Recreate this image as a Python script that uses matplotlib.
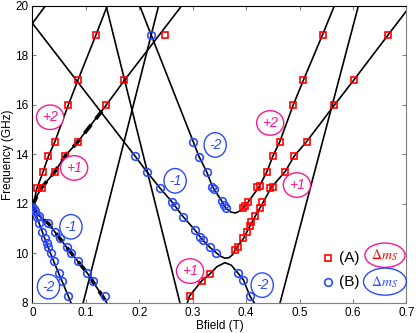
import matplotlib
matplotlib.use('Agg')
import matplotlib.pyplot as plt

plt.rcParams['font.family'] = ['Liberation Sans', 'DejaVu Sans']
plt.rcParams['mathtext.fontset'] = 'stix'

# ---- measured points (Bfield in T, frequency in GHz) ----
# (A) red squares
a_b = [0.008, 0.017, 0.020, 0.030, 0.042, 0.042, 0.061, 0.067, 0.085, 0.085, 0.119, 0.138, 0.172, 0.249,
       0.294, 0.317, 0.332,
       0.379, 0.385, 0.395, 0.401, 0.407, 0.410, 0.417, 0.426, 0.429, 0.445, 0.450, 0.473, 0.490, 0.513,
       0.565, 0.601, 0.666,
       0.394, 0.398, 0.404, 0.421, 0.426, 0.439, 0.450, 0.463, 0.488, 0.507, 0.543]
a_f = [12.65, 12.65, 13.30, 13.93, 13.30, 14.51, 13.93, 15.99, 14.51, 16.99, 18.84, 15.99, 16.99, 18.84,
       8.27, 8.89, 9.16,
       10.15, 10.27, 10.60, 10.87, 11.10, 11.27, 11.50, 11.82, 12.08, 12.63, 12.69, 13.30, 13.93, 14.51,
       15.99, 16.99, 18.84,
       11.82, 11.91, 12.08, 12.66, 12.72, 13.30, 13.93, 14.51, 15.99, 16.99, 18.84]

# (B) blue circles
b_b = [0.000, 0.002, 0.004, 0.008, 0.013, 0.018, 0.023, 0.027, 0.030, 0.034, 0.040, 0.049, 0.055, 0.067,
       0.013, 0.030, 0.042, 0.052, 0.064, 0.072, 0.085, 0.103, 0.114, 0.136,
       0.192, 0.214, 0.222, 0.239, 0.261, 0.266, 0.282, 0.304, 0.314, 0.319, 0.332, 0.344,
       0.301, 0.312, 0.326, 0.337, 0.339, 0.354, 0.359, 0.362,
       0.385, 0.395, 0.407]
b_f = [11.88, 11.80, 11.72, 11.48, 11.21, 10.87, 10.60, 10.43, 10.24, 10.02, 9.68, 9.19, 8.89, 8.27,
       11.50, 11.23, 10.87, 10.60, 10.24, 10.02, 9.68, 9.19, 8.89, 8.27,
       13.93, 13.30, 18.84, 12.63, 12.08, 11.91, 11.48, 10.94, 10.67, 10.53, 10.24, 10.02,
       14.51, 13.90, 13.30, 12.69, 12.58, 12.12, 11.95, 11.82,
       9.19, 8.92, 8.27]

# ---- transition lines ----
p2_b = [0.000, 0.004, 0.008, 0.020, 0.030, 0.042, 0.067, 0.085, 0.119, 0.140]
p2_f = [11.90, 12.20, 12.60, 13.30, 13.93, 14.51, 15.99, 16.99, 18.84, 20.00]

p1_b = [0.000, 0.008, 0.017, 0.042, 0.061, 0.085, 0.138, 0.172, 0.279]
p1_f = [11.90, 12.30, 12.65, 13.30, 13.93, 14.51, 15.99, 16.99, 20.00]

m1_b = [0.000, 0.004, 0.013, 0.030, 0.064, 0.103, 0.139]
m1_f = [11.90, 11.75, 11.50, 11.20, 10.24, 9.19, 8.00]

m2_b = [0.000, 0.008, 0.023, 0.040, 0.067, 0.072]
m2_f = [11.90, 11.48, 10.60, 9.66, 8.27, 8.00]

low_b = [0.000, 0.100, 0.192, 0.214, 0.239, 0.261, 0.282, 0.304, 0.319, 0.332, 0.344, 0.352, 0.360, 0.368,
         0.375, 0.382, 0.395, 0.407, 0.417, 0.429, 0.447, 0.473, 0.490, 0.513, 0.565, 0.601, 0.666, 0.700]
low_f = [19.30, 16.50, 13.93, 13.30, 12.63, 12.08, 11.48, 10.94, 10.53, 10.24, 10.02, 9.88, 9.80, 9.82,
         9.95, 10.24, 10.60, 11.10, 11.50, 11.95, 12.66, 13.30, 13.93, 14.51, 15.99, 16.99, 18.84, 19.80]

up_b = [0.201, 0.222, 0.301, 0.312, 0.326, 0.337, 0.354, 0.362, 0.372, 0.380, 0.389, 0.394, 0.404, 0.424,
        0.439, 0.450, 0.463, 0.488, 0.507, 0.543, 0.565]
up_f = [20.00, 18.84, 14.51, 13.90, 13.30, 12.69, 12.12, 11.82, 11.66, 11.63, 11.72, 11.82, 12.08, 12.68,
        13.30, 13.93, 14.51, 15.99, 16.99, 18.84, 20.00]

hump_b = [0.290, 0.294, 0.317, 0.332, 0.345, 0.360, 0.372, 0.385, 0.395, 0.407, 0.415]
hump_f = [8.00, 8.27, 8.89, 9.16, 9.45, 9.62, 9.52, 9.19, 8.92, 8.27, 8.00]

zf_up_b = [0.000, 0.024]
zf_up_f = [19.30, 20.00]

steep1_b = [0.095, 0.236]
steep1_f = [8.00, 20.00]
steep2_b = [0.138, 0.276]
steep2_f = [20.00, 8.00]
steep3_b = [0.4635, 0.610]
steep3_f = [8.00, 20.00]

# thick dashed overlays
dash1_b = [0.000, 0.008, 0.017, 0.042, 0.061, 0.085, 0.130]
dash1_f = [11.90, 12.30, 12.65, 13.30, 13.93, 14.51, 15.75]

# labels (text, B, f, colour)
red = '#ff0000'
blue = '#2a4bff'
pink = '#ff1493'
labels = [('+2', 0.033, 15.50, pink), ('+1', 0.078, 13.45, pink),
          ('-1', 0.072, 11.07, blue), ('-2', 0.030, 8.65, blue),
          ('-2', 0.342, 14.38, blue), ('-1', 0.267, 12.93, blue),
          ('+2', 0.445, 15.27, pink), ('+1', 0.495, 12.76, pink),
          ('+1', 0.295, 9.28, pink), ('-2', 0.430, 8.71, blue)]

fig = plt.figure(figsize=(4.16, 3.33), dpi=100)
ax = fig.add_axes([0.078, 0.091, 0.899, 0.891])

lw = 1.2
for xs, ys in [(p2_b, p2_f), (p1_b, p1_f), (m1_b, m1_f), (m2_b, m2_f), (low_b, low_f), (up_b, up_f),
               (hump_b, hump_f), (zf_up_b, zf_up_f), (steep1_b, steep1_f), (steep2_b, steep2_f),
               (steep3_b, steep3_f)]:
    ax.plot(xs, ys, color='black', lw=lw, zorder=2)

ax.plot(dash1_b, dash1_f, color='black', lw=2.6, ls=(0, (3, 2)), zorder=2)
ax.plot(m1_b, m1_f, color='black', lw=2.6, ls=(0, (3, 2)), zorder=2)

ax.plot(a_b, a_f, ls='none', marker='s', ms=5, mfc='none', mec=red, mew=1.2, zorder=3)
ax.plot(b_b, b_f, ls='none', marker='o', ms=5.5, mfc='none', mec=blue, mew=1.2, zorder=3)

for txt, x, y, c in labels:
    ax.text(x, y, txt, color=c, fontsize=10, ha='center', va='center', style='italic',
            bbox=dict(boxstyle='ellipse,pad=0.12', fc='white', ec=c, lw=1.0), zorder=4)

# legend drawn by hand
ax.plot([0.791], [0.152], transform=ax.transAxes, marker='s', ms=5, mfc='none', mec=red, mew=1.2, ls='none')
ax.plot([0.791], [0.071], transform=ax.transAxes, marker='o', ms=5.5, mfc='none', mec=blue, mew=1.2, ls='none')
ax.text(0.82, 0.152, '(A)', transform=ax.transAxes, fontsize=11, va='center', ha='left')
ax.text(0.82, 0.071, '(B)', transform=ax.transAxes, fontsize=11, va='center', ha='left')
ax.text(0.9425, 0.160, r'$\Delta m_S$', transform=ax.transAxes, fontsize=10, color=red, va='center', ha='center',
        bbox=dict(boxstyle='ellipse,pad=0.05', fc='white', ec=pink, lw=1.0))
ax.text(0.9425, 0.071, r'$\Delta m_S$', transform=ax.transAxes, fontsize=10, color=blue, va='center', ha='center',
        bbox=dict(boxstyle='ellipse,pad=0.12', fc='white', ec=blue, lw=1.0))

ax.set_xlim(0, 0.7)
ax.set_ylim(8, 20)
ax.set_xticks([0, 0.1, 0.2, 0.3, 0.4, 0.5, 0.6, 0.7])
ax.set_xticklabels(['0', '0.1', '0.2', '0.3', '0.4', '0.5', '0.6', '0.7'])
ax.set_yticks([8, 10, 12, 14, 16, 18, 20])
ax.tick_params(direction='in', length=3, labelsize=8.5, top=True, right=True, pad=3,
               color='#808080')
ax.spines['right'].set_color('#808080')
ax.spines['bottom'].set_color('#808080')
ax.set_xlabel('Bfield (T)', fontsize=8.5, labelpad=1)
ax.set_ylabel('Frequency (GHz)', fontsize=8.5, labelpad=1)

fig.savefig('out.png', dpi=100)
